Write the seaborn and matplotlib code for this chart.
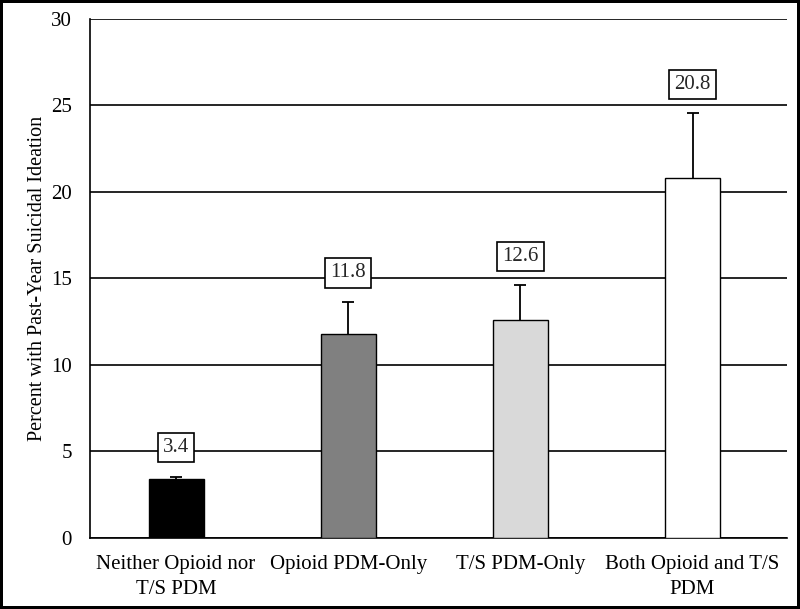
import matplotlib
matplotlib.use("Agg")
import matplotlib.pyplot as plt
import seaborn as sns
import pandas as pd

# --- data ---
groups = ["Neither Opioid nor\nT/S PDM", "Opioid PDM-Only", "T/S PDM-Only", "Both Opioid and T/S\nPDM"]
percent = [3.4, 11.8, 12.6, 20.8]
err_upper = [0.15, 1.85, 2.0, 3.75]
bar_colors = ["#000000", "#808080", "#d9d9d9", "#ffffff"]

df = pd.DataFrame({"group": groups, "percent": percent})

sns.set_theme(style="white")
plt.rcParams["font.family"] = ["Liberation Serif", "DejaVu Serif"]

fig = plt.figure(figsize=(8, 6.09), dpi=100, edgecolor="black", linewidth=4)
ax = fig.add_axes([0.1125, 0.1166, 0.8715, 0.8522])

sns.barplot(data=df, x="group", y="percent", hue="group", palette=bar_colors,
            legend=False, width=0.32, edgecolor="black", linewidth=1.0,
            errorbar=None, ax=ax, zorder=3)

# upper-only error bars (hide the cap at the bar top)
eb = ax.errorbar(range(len(groups)), percent, yerr=[[0] * len(groups), err_upper],
                 fmt="none", ecolor="black", elinewidth=1.3, capsize=4, capthick=1.3, zorder=4)
eb[1][0].set_visible(False)

# boxed value labels above the error bars
for i, (v, e) in enumerate(zip(percent, err_upper)):
    ax.annotate(f"{v:.1f}", xy=(i, v + e), xytext=(0, 14), textcoords="offset points",
                ha="center", va="bottom", fontsize=15, zorder=5,
                bbox=dict(boxstyle="square,pad=0.25", facecolor="white", edgecolor="black", linewidth=1.2))

ax.set_ylim(0, 30)
ax.set_xlim(-0.5, 3.55)
ax.set_yticks(range(0, 31, 5))
ax.yaxis.grid(True, color="black", linewidth=1.2, zorder=0)
ax.set_axisbelow(True)
ax.tick_params(axis="both", length=0, labelsize=15, colors="black")
ax.tick_params(axis="y", pad=13)
ax.tick_params(axis="x", pad=12)
for lbl in ax.get_xticklabels():
    lbl.set_linespacing(1.45)
ax.set_xlabel("")
ax.set_ylabel("Percent with Past-Year Suicidal Ideation", fontsize=14.5, color="black", labelpad=3)

for side in ["top", "right"]:
    ax.spines[side].set_visible(False)
for side in ["left", "bottom"]:
    ax.spines[side].set_color("black")
    ax.spines[side].set_linewidth(1.2)

fig.savefig("out.png", dpi=100, edgecolor=fig.get_edgecolor())
